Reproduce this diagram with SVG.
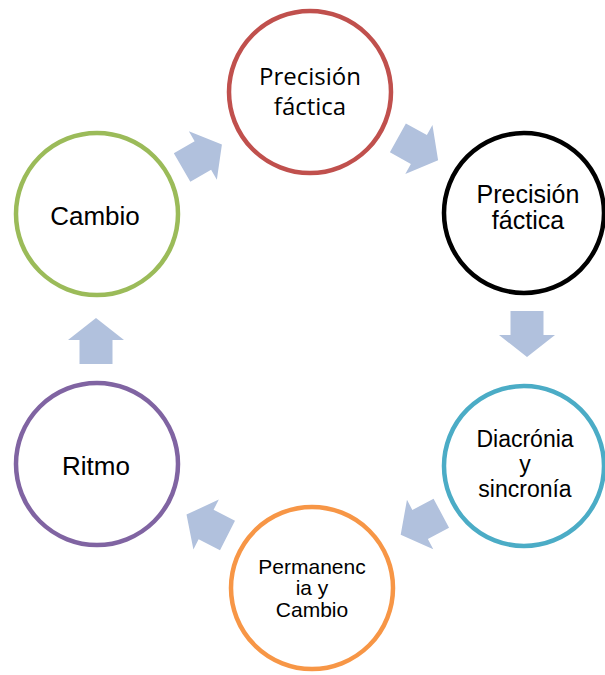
<svg xmlns="http://www.w3.org/2000/svg" width="605" height="675" viewBox="0 0 605 675">
<defs>
<style>
.node{fill:#FFFFFF;stroke-width:4.5}
.t{font-family:"Liberation Sans",Arial,sans-serif;fill:#000000;text-anchor:middle}
.tc{font-family:"Open Sans","Noto Sans",sans-serif;fill:#000000;text-anchor:middle}
.arr{fill:#B1C1DD}
</style>
<polygon id="ar" points="-23,-16.5 1,-16.5 1,-28 23,0 1,28 1,16.5 -23,16.5"/>
</defs>
<rect width="605" height="675" fill="#FFFFFF"/>
<g id="connectors">
<use href="#ar" class="arr" transform="translate(202,156) rotate(-30)"/>
<use href="#ar" class="arr" transform="translate(418,149) rotate(29)"/>
<use href="#ar" class="arr" transform="translate(527,334) rotate(90)"/>
<use href="#ar" class="arr" transform="translate(421,524) rotate(152)"/>
<use href="#ar" class="arr" transform="translate(207,525) rotate(207)"/>
<use href="#ar" class="arr" transform="translate(96,341) rotate(-90)"/>
</g>
<g id="n1">
<circle class="node" cx="310" cy="92" r="81" stroke="#C0504D"/>
<text class="tc" x="310" y="85" font-size="24">Precisión</text>
<text class="tc" x="310" y="115" font-size="24">fáctica</text>
</g>
<g id="n2">
<circle class="node" cx="524" cy="213" r="80" stroke="#000000"/>
<text class="t" x="528" y="203" font-size="25">Precisión</text>
<text class="t" x="528" y="229" font-size="25">fáctica</text>
</g>
<g id="n3">
<circle class="node" cx="524" cy="466" r="80" stroke="#4BACC6"/>
<text class="t" x="525" y="447" font-size="23">Diacrónia</text>
<text class="t" x="525" y="472" font-size="23">y</text>
<text class="t" x="525" y="497" font-size="23">sincronía</text>
</g>
<g id="n4">
<circle class="node" cx="312" cy="588" r="81" stroke="#F79646"/>
<text class="t" x="312" y="574" font-size="21">Permanenc</text>
<text class="t" x="312" y="595" font-size="21">ia y</text>
<text class="t" x="312" y="617" font-size="21">Cambio</text>
</g>
<g id="n5">
<circle class="node" cx="97" cy="464" r="81" stroke="#8064A2"/>
<text class="t" x="96" y="475" font-size="26">Ritmo</text>
</g>
<g id="n6">
<circle class="node" cx="97" cy="214" r="81" stroke="#9BBB59"/>
<text class="t" x="95" y="225" font-size="26">Cambio</text>
</g>
</svg>
